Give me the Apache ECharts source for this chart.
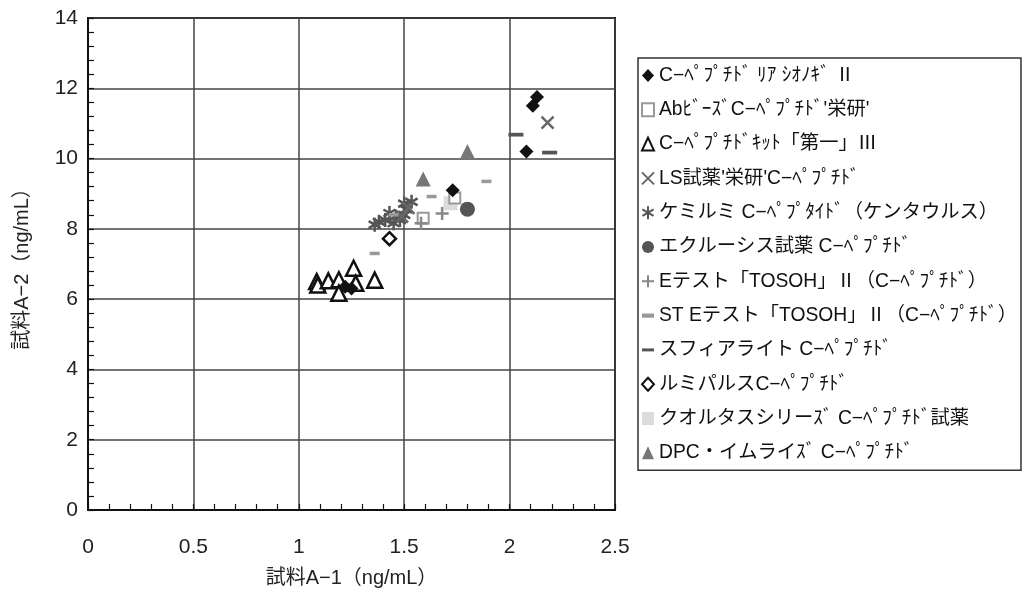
<!DOCTYPE html>
<html>
<head>
<meta charset="utf-8">
<script src="https://cdn.jsdelivr.net/npm/echarts@6/dist/echarts.min.js"></script>
<style>
  html, body { margin: 0; padding: 0; background: #fff; }
  #chart { width: 1030px; height: 595px; }
</style>
</head>
<body>
<div id="chart"></div>
<script>
// 測定値 [試料A-1, 試料A-2]
const shionogi = [[2.13, 11.75], [2.11, 11.5], [2.08, 10.2], [1.73, 9.1], [1.22, 6.35], [1.25, 6.3]];
const abBeads = [[1.59, 8.3], [1.74, 8.88]];
const daiichi = [[1.085, 6.5], [1.09, 6.4], [1.14, 6.52], [1.19, 6.55], [1.26, 6.88], [1.27, 6.45], [1.19, 6.17], [1.36, 6.54]];
const lsEiken = [[2.18, 11.02], [1.49, 8.35], [1.52, 8.6]];
const kemirumi = [[1.36, 8.12], [1.38, 8.2], [1.41, 8.25], [1.43, 8.45], [1.45, 8.16], [1.48, 8.25], [1.5, 8.4], [1.51, 8.55], [1.5, 8.72], [1.535, 8.77], [1.46, 8.35]];
const eclusys = [[1.8, 8.56]];
const eTest = [[1.68, 8.44], [1.58, 8.16]];
const stETest = [[1.36, 7.3], [1.45, 8.4], [1.63, 8.92], [1.89, 9.35]];
const sphere = [[2.03, 10.68], [2.19, 10.17]];
const lumipulse = [[1.43, 7.72]];
const quoltas = [[1.72, 8.73]];
const dpc = [[1.59, 9.42], [1.8, 10.2]];

const xTicks = { min: 0, max: 2.5, interval: 0.5 };
const yTicks = { min: 0, max: 14, interval: 2 };

const FONT = "'Liberation Sans', 'Noto Sans CJK JP', sans-serif";

const SYM_X = 'path://M0,0L10,10M10,0L0,10';
const SYM_PLUS = 'path://M5,0L5,10M0,5L10,5';
const SYM_AST = 'path://M5,0L5,10M0.7,2.5L9.3,7.5M0.7,7.5L9.3,2.5';
const SYM_DASH = 'path://M0,0L10,0L10,3.5L0,3.5Z';
const SYM_DASH_W = 'path://M0,0L14,0L14,3.5L0,3.5Z';

// 凡例名
const N_SHIONOGI = 'C−ﾍﾟﾌﾟﾁﾄﾞ ﾘｱ ｼｵﾉｷﾞ Ⅱ';
const N_AB = 'AbﾋﾞｰｽﾞC−ﾍﾟﾌﾟﾁﾄﾞ\'栄研\'';
const N_DAIICHI = 'C−ﾍﾟﾌﾟﾁﾄﾞｷｯﾄ「第一」Ⅲ';
const N_LS = 'LS試薬\'栄研\'C−ﾍﾟﾌﾟﾁﾄﾞ';
const N_KEMI = 'ケミルミ C−ﾍﾟﾌﾟﾀｲﾄﾞ（ケンタウルス）';
const N_ECL = 'エクルーシス試薬 C−ﾍﾟﾌﾟﾁﾄﾞ';
const N_ETEST = 'Eテスト「TOSOH」Ⅱ（C−ﾍﾟﾌﾟﾁﾄﾞ）';
const N_ST = 'ST Eテスト「TOSOH」Ⅱ（C−ﾍﾟﾌﾟﾁﾄﾞ）';
const N_SPHERE = 'スフィアライト C−ﾍﾟﾌﾟﾁﾄﾞ';
const N_LUMI = 'ルミパルスC−ﾍﾟﾌﾟﾁﾄﾞ';
const N_QUOL = 'クオルタスシリーｽﾞ C−ﾍﾟﾌﾟﾁﾄﾞ試薬';
const N_DPC = 'DPC・イムライｽﾞ C−ﾍﾟﾌﾟﾁﾄﾞ';

function filled(name, data, symbol, size, color) {
  return {
    name, type: 'scatter', data, symbol, symbolSize: size, symbolKeepAspect: true,
    itemStyle: { color: color, opacity: 1 }
  };
}
function hollow(name, data, symbol, size, color, bw) {
  return {
    name, type: 'scatter', data, symbol, symbolSize: size, symbolKeepAspect: true,
    itemStyle: { color: '#fff', borderColor: color, borderWidth: bw, opacity: 1 }
  };
}
function stroked(name, data, symbol, size, color, bw) {
  return {
    name, type: 'scatter', data, symbol, symbolSize: size, symbolKeepAspect: true,
    itemStyle: { color: 'rgba(0,0,0,0)', borderColor: color, borderWidth: bw, opacity: 1 }
  };
}

const series = [
  hollow(N_DAIICHI, daiichi, 'triangle', 15, '#111', 2.5),
  stroked(N_KEMI, kemirumi, SYM_AST, 14, '#555', 2.5),
  stroked(N_LS, lsEiken, SYM_X, 12, '#666', 2.5),
  filled(N_QUOL, quoltas, 'rect', 14, '#dcdcdc'),
  hollow(N_AB, abBeads, 'rect', 11, '#999', 2),
  stroked(N_ETEST, eTest, SYM_PLUS, 13, '#888', 2.5),
  filled(N_ST, stETest, SYM_DASH, 10, '#999'),
  filled(N_SPHERE, sphere, SYM_DASH_W, 15, '#555'),
  filled(N_ECL, eclusys, 'circle', 15, '#555'),
  hollow(N_LUMI, lumipulse, 'diamond', 13, '#111', 2.5),
  filled(N_DPC, dpc, 'triangle', 15, '#777'),
  filled(N_SHIONOGI, shionogi, 'diamond', 14, '#111')
];

const legendOrder = [N_SHIONOGI, N_AB, N_DAIICHI, N_LS, N_KEMI, N_ECL, N_ETEST, N_ST, N_SPHERE, N_LUMI, N_QUOL, N_DPC];

const chart = echarts.init(document.getElementById('chart'), null, { renderer: 'canvas' });

const axisCommon = {
  type: 'value',
  nameLocation: 'middle',
  nameTextStyle: { fontFamily: FONT, fontSize: 20, color: '#222' },
  axisLine: { show: true, onZero: false, lineStyle: { color: '#111', width: 2 } },
  axisTick: { show: true, inside: true, length: 6, lineStyle: { color: '#111', width: 1.2 } },
  minorTick: { show: true, splitNumber: 5, length: 6, lineStyle: { color: '#111', width: 1.2 } },
  axisLabel: { fontFamily: FONT, fontSize: 21, color: '#222' },
  splitLine: { show: true, lineStyle: { color: '#444', width: 1.5 } }
};

chart.setOption({
  backgroundColor: '#fff',
  animation: false,
  grid: { left: 88, right: 415, top: 18, bottom: 85, show: true, borderColor: '#111', borderWidth: 2, backgroundColor: 'transparent' },
  legend: {
    orient: 'vertical',
    left: 638, top: 58,
    padding: [7, 4, 7, 3],
    itemGap: 13.3,
    itemWidth: 12, itemHeight: 13,
    borderColor: '#333', borderWidth: 1.5,
    textStyle: { fontFamily: FONT, fontSize: 19.3, color: '#111', lineHeight: 21 },
    data: legendOrder
  },
  xAxis: Object.assign({}, axisCommon, {
    min: xTicks.min, max: xTicks.max, interval: xTicks.interval,
    name: '試料A−1（ng/mL）', nameGap: 58,
    axisLabel: Object.assign({}, axisCommon.axisLabel, { margin: 27 })
  }),
  yAxis: Object.assign({}, axisCommon, {
    min: yTicks.min, max: yTicks.max, interval: yTicks.interval,
    name: '試料A−2（ng/mL）', nameGap: 56,
    axisLabel: Object.assign({}, axisCommon.axisLabel, { margin: 10 })
  }),
  series: series
});
</script>
</body>
</html>
